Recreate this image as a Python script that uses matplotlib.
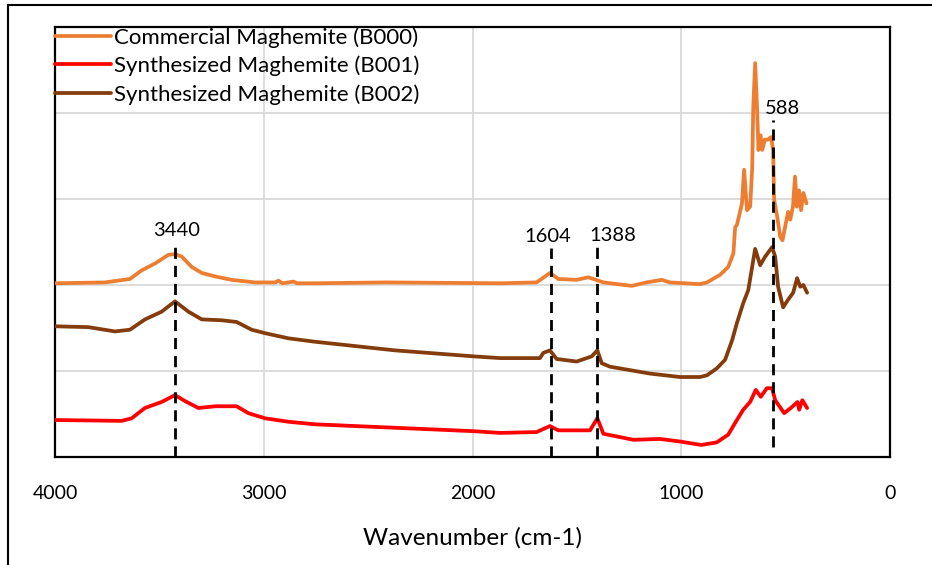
import matplotlib
matplotlib.use("Agg")
import matplotlib.pyplot as plt
from matplotlib.lines import Line2D

plt.rcParams['font.family'] = ['Lato', 'DejaVu Sans']

# spectra (wavenumber, stacked signal)
wn_b000 = [4000, 3760, 3641, 3585, 3521, 3457, 3425, 3393, 3345, 3297, 3233, 3154, 3042,
           2945, 2930, 2910, 2858, 2840, 2754, 2412, 1868, 1693, 1629, 1589, 1501, 1445,
           1373, 1237, 1166, 1094, 1054, 910, 877, 813, 775, 750, 742, 733, 709, 699, 685,
           670, 660, 655, 646, 637, 630, 620, 612, 600, 585, 570, 560, 555, 540, 526, 515,
           503, 488, 478, 465, 455, 446, 436, 426, 415, 400]
sig_b000 = [2.02, 2.03, 2.07, 2.17, 2.25, 2.35, 2.36, 2.33, 2.21, 2.14, 2.10, 2.06, 2.03,
            2.03, 2.05, 2.02, 2.04, 2.02, 2.02, 2.03, 2.02, 2.03, 2.14, 2.07, 2.06, 2.09,
            2.03, 1.99, 2.03, 2.06, 2.03, 2.01, 2.03, 2.12, 2.21, 2.37, 2.67, 2.70, 2.95,
            3.34, 2.87, 2.91, 3.37, 4.07, 4.58, 4.07, 3.57, 3.74, 3.57, 3.69, 3.69, 3.72,
            3.57, 2.99, 2.79, 2.56, 2.52, 2.67, 2.85, 2.76, 2.91, 3.26, 2.91, 3.10, 2.87,
            3.07, 2.95]

wn_b001 = [4000, 3681, 3633, 3569, 3489, 3425, 3377, 3313, 3233, 3130, 3074, 2994, 2882,
           2754, 2372, 1993, 1868, 1693, 1629, 1589, 1437, 1402, 1373, 1229, 1102, 1006,
           904, 830, 775, 741, 703, 670, 643, 619, 590, 565, 550, 507, 475, 443, 435, 420,
           397]
sig_b001 = [0.43, 0.42, 0.45, 0.57, 0.64, 0.72, 0.65, 0.57, 0.59, 0.59, 0.51, 0.45, 0.41,
            0.38, 0.34, 0.30, 0.28, 0.29, 0.36, 0.31, 0.31, 0.45, 0.27, 0.20, 0.21, 0.18,
            0.14, 0.17, 0.26, 0.40, 0.55, 0.64, 0.78, 0.70, 0.80, 0.80, 0.66, 0.51, 0.57,
            0.64, 0.55, 0.66, 0.57]

wn_b002 = [4000, 3840, 3713, 3641, 3569, 3489, 3425, 3361, 3297, 3202, 3130, 3058, 2994,
           2882, 2754, 2372, 1993, 1868, 1677, 1661, 1629, 1597, 1501, 1429, 1402, 1381,
           1341, 1150, 1006, 910, 877, 830, 790, 756, 733, 703, 679, 646, 622, 598, 565,
           550, 536, 512, 488, 464, 445, 430, 415, 397]
sig_b002 = [1.52, 1.51, 1.46, 1.48, 1.60, 1.69, 1.81, 1.69, 1.60, 1.59, 1.57, 1.48, 1.44,
            1.38, 1.34, 1.24, 1.17, 1.15, 1.15, 1.21, 1.24, 1.14, 1.11, 1.17, 1.24, 1.09,
            1.05, 0.97, 0.93, 0.93, 0.95, 1.03, 1.13, 1.36, 1.56, 1.79, 1.94, 2.42, 2.23,
            2.33, 2.44, 2.33, 1.98, 1.74, 1.83, 1.91, 2.08, 1.98, 2.00, 1.91]

# marked peaks: where the dashed line sits, its label, and its vertical extent
peak_pos = [3425, 1624, 1402, 560]
peak_labels = ['3440', '1604', '1388', '588']
peak_top = [2.50, 2.43, 2.45, 3.92]
peak_bottom = [0.0, 0.0, 0.0, 0.12]
label_shift = [2, -3, 15, 9]   # px, label nudged sideways as in the original

x_ticks = [4000, 3000, 2000, 1000, 0]

fig = plt.figure(figsize=(9.32, 5.65), dpi=100)
# outer frame (top and left edges only)
fig.add_artist(Line2D([8 / 932, 1], [1 - 5 / 565, 1 - 5 / 565], color='black', lw=1.5))
fig.add_artist(Line2D([8 / 932, 8 / 932], [0, 1 - 5 / 565], color='black', lw=1.5))

ax = fig.add_axes([55 / 932, 1 - 457 / 565, 835 / 932, 430 / 565])

line_kw = dict(lw=2.7, solid_joinstyle='round', solid_capstyle='round', zorder=3)
ax.plot(wn_b000, sig_b000, color='#ED7D31', label='Commercial Maghemite (B000)', **line_kw)
ax.plot(wn_b001, sig_b001, color='#FF0000', label='Synthesized Maghemite (B001)', **line_kw)
ax.plot(wn_b002, sig_b002, color='#843C0C', label='Synthesized Maghemite (B002)', **line_kw)

for pos, lab, top, bot, dx in zip(peak_pos, peak_labels, peak_top, peak_bottom, label_shift):
    ax.plot([pos, pos], [bot, top], color='black', lw=2, linestyle=(0, (4, 2.5)), zorder=4,
            clip_on=False)
    ax.annotate(lab, (pos, top), xytext=(dx * 0.72, 2), textcoords='offset points',
                ha='center', va='bottom', fontsize=14.5)

ax.set_xlim(4000, 0)
ax.set_ylim(0, 5)
ax.set_xticks(x_ticks)
ax.set_xticklabels([str(t) for t in x_ticks], fontsize=14)
ax.set_yticks([0, 1, 2, 3, 4, 5])
ax.set_yticklabels([])
ax.tick_params(axis='y', length=0)
ax.tick_params(axis='x', length=0, pad=20)
ax.grid(True, color='#D9D9D9', lw=1.3)
ax.set_axisbelow(True)
for s in ax.spines.values():
    s.set_linewidth(1.6)
    s.set_color('black')

ax.set_xlabel('Wavenumber (cm-1)', fontsize=17.5, labelpad=18)

ax.legend(loc='upper left', bbox_to_anchor=(0, 1.0), frameon=False, fontsize=16,
          handlelength=2.5, handletextpad=0.15, borderpad=0, borderaxespad=0,
          labelspacing=0.36)

fig.savefig('out.png', dpi=100)
